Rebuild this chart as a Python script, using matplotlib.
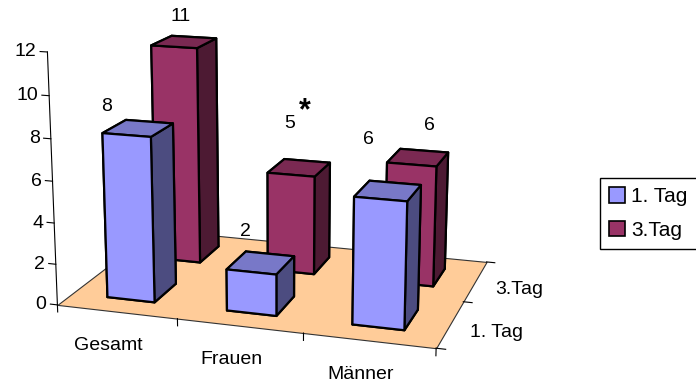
import numpy as np
import matplotlib
matplotlib.use('Agg')
import matplotlib.pyplot as plt
from matplotlib.patches import Patch
from matplotlib.transforms import offset_copy
from mpl_toolkits.mplot3d.art3d import Poly3DCollection


CATEGORIES = ['Gesamt', 'Frauen', 'Männer']
SERIES = ['1. Tag', '3.Tag']
TAG1 = [8, 2, 6]
TAG3 = [11, 5, 6]
Z_TICKS = [0, 2, 4, 6, 8, 10, 12]
# bar marked as significant (series, category)
MARKED = ('3.Tag', 'Frauen')

# front, top, side
COLORS = {
    '1. Tag': ('#9999ff', '#7878c8', '#4c4c80'),
    '3.Tag': ('#993366', '#7a2952', '#4d1a33'),
}
FLOOR = '#ffcc99'

# pixel nudges of the value labels (Excel places them a bit irregularly)
LABEL_NUDGE = {
    ('1. Tag', 'Gesamt'): (-20, 29), ('3.Tag', 'Gesamt'): (7, 30),
    ('1. Tag', 'Frauen'): (-6, 40), ('3.Tag', 'Frauen'): (-1, 51),
    ('1. Tag', 'Männer'): (-12, 60), ('3.Tag', 'Männer'): (18, 39),
}
STAR_NUDGE = (14, 63)

plt.rcParams['font.family'] = ['Liberation Sans', 'DejaVu Sans']

fig = plt.figure(figsize=(6.96, 3.87), dpi=100)
ax = fig.add_axes([0.0180, -0.1151, 0.75, 1.349], projection='3d',
                  proj_type='persp', focal_length=0.55, computed_zorder=False)
ax.view_init(elev=15, azim=-72.5)
ax.set_box_aspect((360, 245, 240), zoom=0.97)
ax.set_axis_off()

n_cat, n_ser = len(CATEGORIES), len(SERIES)
width, depth = 0.4, 0.45
fs = 14


def shift(dx, dy):
    return offset_copy(ax.transData, fig=fig, x=dx, y=dy, units='dots')


# floor
floor = Poly3DCollection([[(0, 0, 0), (n_cat, 0, 0), (n_cat, n_ser, 0), (0, n_ser, 0)]],
                         facecolor=FLOOR, edgecolor='#333333', linewidth=0.8, zorder=1)
ax.add_collection3d(floor)

# bars, back row first
values = [TAG1, TAG3]
for j in reversed(range(n_ser)):
    name = SERIES[j]
    front, top, side = COLORS[name]
    for i, v in enumerate(values[j]):
        x0 = i + 0.5 - width / 2
        y0 = j + 0.5 - depth / 2
        ax.bar3d(x0, y0, 0, width, depth, v,
                 color=[side, top, front, side, side, side],
                 edgecolor='black', linewidth=1.6, shade=False,
                 zorder=2 + n_ser - j)
        key = (name, CATEGORIES[i])
        ax.text(i + 0.5, y0, v, str(v), transform=shift(*LABEL_NUDGE[key]),
                ha='center', va='center', fontsize=fs, zorder=10)
        if key == MARKED:
            ax.text(i + 0.5, y0, v, '*', transform=shift(*STAR_NUDGE),
                    ha='center', va='center', fontsize=22, fontweight='bold', zorder=10)

# value axis
ax.plot([0, 0], [0, 0], [0, Z_TICKS[-1]], color='black', lw=0.8, zorder=6)
for z in Z_TICKS:
    ax.plot([0, -0.06], [0, 0], [z, z], color='black', lw=0.8, zorder=6)
    ax.text(0, 0, z, str(z), transform=shift(-11, 0), ha='right', va='center',
            fontsize=fs, zorder=10)

# category axis
for i in range(n_cat + 1):
    ax.plot([i, i], [0, 0], [0, -0.35], color='black', lw=0.8, zorder=6)
for i, c in enumerate(CATEGORIES):
    ax.text(i + 0.5, 0, 0, c, transform=shift(-8, -34), ha='center', va='center',
            fontsize=fs, zorder=10)

# series axis
for j in range(n_ser + 1):
    ax.plot([n_cat, n_cat + 0.07], [j, j], [0, 0], color='black', lw=0.8, zorder=6)
for j, s in enumerate(SERIES):
    ax.text(n_cat, j + 0.5, 0, s, transform=shift(20, -8), ha='left', va='center',
            fontsize=fs, zorder=10)

ax.set_xlim(0, n_cat)
ax.set_ylim(0, n_ser)
ax.set_zlim(0, Z_TICKS[-1])

handles = [Patch(facecolor=COLORS[s][0], edgecolor='black', linewidth=1.2) for s in SERIES]
fig.legend(handles, SERIES, loc='upper left', bbox_to_anchor=(600 / 696, 1 - 178 / 387),
           borderaxespad=0, fontsize=15, handlelength=0.75, handleheight=0.75,
           handletextpad=0.3, borderpad=0.45, labelspacing=0.7, fancybox=False,
           edgecolor='black', framealpha=1)

fig.savefig('out.png', dpi=100)
